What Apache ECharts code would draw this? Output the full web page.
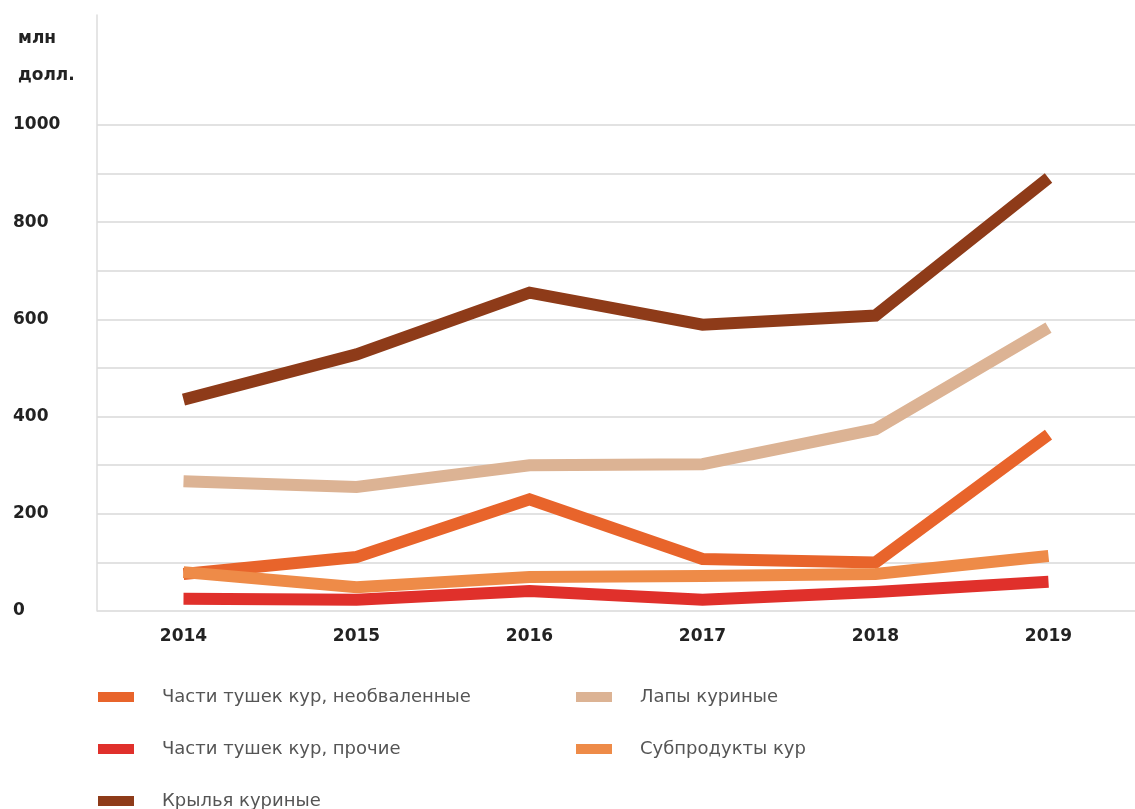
<!DOCTYPE html>
<html>
<head>
<meta charset="utf-8">
<script src="https://cdn.jsdelivr.net/npm/echarts@6/dist/echarts.min.js"></script>
<style>
  html, body { margin: 0; padding: 0; background: #fff; }
  #chart { width: 1135px; height: 809px; }
</style>
</head>
<body>
<div id="chart"></div>
<script>
const years = ['2014', '2015', '2016', '2017', '2018', '2019']
const partsBoneIn = [76, 111, 230, 107, 100, 363]
const partsOther = [25, 23, 41, 23, 39, 60]
const wings = [435, 528, 655, 589, 608, 891]
const feet = [267, 255, 300, 302, 374, 583]
const offal = [80, 49, 70, 72, 76, 113]

const names = [
  'Части тушек кур, необваленные',
  'Части тушек кур, прочие',
  'Крылья куриные',
  'Лапы куриные',
  'Субпродукты кур'
]
const colors = ['#e8642b', '#e0302b', '#8e3b19', '#dcb394', '#ee8b48']
const values = [partsBoneIn, partsOther, wings, feet, offal]

const chart = echarts.init(document.getElementById('chart'), null, { renderer: 'canvas' })

const labelFont = { fontFamily: 'DejaVu Sans', fontWeight: 'bold', fontSize: 17, color: '#222' }
const legendBase = {
  orient: 'vertical',
  icon: 'rect',
  itemWidth: 36,
  itemHeight: 10,
  itemGap: 34,
  top: 688,
  height: 130,
  padding: 0,
  selectedMode: false,
  textStyle: { fontFamily: 'DejaVu Sans', fontSize: 18, lineHeight: 14, color: '#555', padding: [0, 0, 0, 23] }
}

chart.setOption({
  animation: false,
  color: colors,
  title: {
    text: 'млн\nдолл.',
    left: 13,
    top: 15,
    textStyle: { ...labelFont, lineHeight: 37 }
  },
  legend: [
    { ...legendBase, left: 98, data: names.slice(0, 3) },
    { ...legendBase, left: 576, data: names.slice(3) }
  ],
  grid: [
    { left: 97, right: 0, top: 125, bottom: 198 },
    { left: 97, right: 0, top: 15, bottom: 198 }
  ],
  xAxis: [
    {
      type: 'category',
      data: years,
      boundaryGap: true,
      axisLine: { show: false },
      axisTick: { show: false },
      axisLabel: { ...labelFont, margin: 17 }
    },
    { type: 'category', gridIndex: 1, data: years, show: false }
  ],
  yAxis: [
    {
      type: 'value',
      min: 0,
      max: 1000,
      interval: 100,
      axisLine: { show: false },
      axisTick: { show: false },
      splitLine: { lineStyle: { color: '#d9d9d9', width: 1.5 } },
      axisLabel: {
        ...labelFont,
        align: 'left',
        margin: 84,
        formatter: v => (v % 200 === 0 ? String(v) : '')
      }
    },
    {
      type: 'value',
      gridIndex: 1,
      min: 0,
      max: 1,
      axisLine: { show: true, lineStyle: { color: '#dcdcdc', width: 1.5 } },
      axisTick: { show: false },
      axisLabel: { show: false },
      splitLine: { show: false }
    }
  ],
  series: names.map((name, i) => ({
    name,
    type: 'line',
    data: values[i],
    symbol: 'none',
    lineStyle: { width: 12, color: colors[i], cap: 'butt', join: 'miter' },
    itemStyle: { color: colors[i] }
  }))
})
</script>
</body>
</html>
